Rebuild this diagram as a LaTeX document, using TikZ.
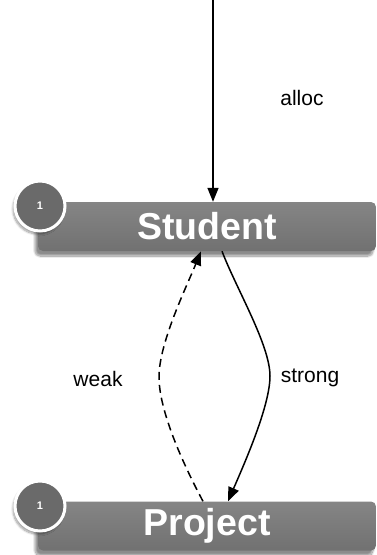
\documentclass[tikz,border=0pt]{standalone}
\usepackage{fontspec}
\setmainfont{Liberation Sans}
\usetikzlibrary{arrows.meta,shadows.blur,calc}
\definecolor{boxtop}{HTML}{858585}
\definecolor{boxbot}{HTML}{717171}
\definecolor{badgefill}{HTML}{6A6A6A}
\tikzset{
  classbox/.style={rounded corners=5pt, minimum width=338pt, minimum height=49pt,
    inner sep=0pt, top color=boxtop, bottom color=boxbot, draw=none,
    text=white, font=\fontsize{37.5}{40}\selectfont\bfseries,
    blur shadow={shadow xshift=-3pt, shadow yshift=-5pt, shadow blur steps=12, shadow opacity=45}},
  badge/.style={circle, minimum size=50pt, inner sep=0pt, fill=badgefill,
    draw=white, line width=3pt, text=white, font=\fontsize{11}{12}\selectfont\bfseries,
    blur shadow={shadow xshift=-2pt, shadow yshift=-3pt, shadow blur steps=10, shadow opacity=40}},
  rel/.style={line width=1.5pt, -{Triangle[length=14pt,width=11pt]}},
  lbl/.style={font=\fontsize{21}{24}\selectfont, inner sep=0pt}
}
\begin{document}
\begin{tikzpicture}[x=1pt,y=-1pt]
  \useasboundingbox (0,0) rectangle (377,555);
  % class boxes with their count badges
  \node[classbox] (student) at (207,226.5) {Student};
  \node[badge] (sbadge) at (40,206) {1};
  \node[classbox] (project) at (207,526) {Project};
  \node[badge] (pbadge) at (40,506) {1};
  % incoming allocation
  \coordinate (src) at (213,0);
  \draw[rel] (src) -- ([xshift=6pt]student.north);
  \node[lbl] (alloc) at (302,98) {alloc};
  % strong reference Student -> Project
  \coordinate (sbend) at (270,376);
  \draw[rel] ([xshift=15pt]student.south)
    .. controls (236,288) and (270,345) .. (sbend)
    .. controls (270,405) and (246,460) .. ([xshift=21pt]project.north);
  \node[lbl] (strong) at (310,378) {strong};
  % weak reference Project -> Student
  \coordinate (wbend) at (159,377);
  \draw[rel, dash pattern=on 8pt off 5pt] ([xshift=-4pt]project.north)
    .. controls (182,462) and (159,410) .. (wbend)
    .. controls (159,343) and (186,288) .. ([xshift=-6pt]student.south);
  \node[lbl] (weak) at (98,379) {weak};
\end{tikzpicture}
\end{document}
